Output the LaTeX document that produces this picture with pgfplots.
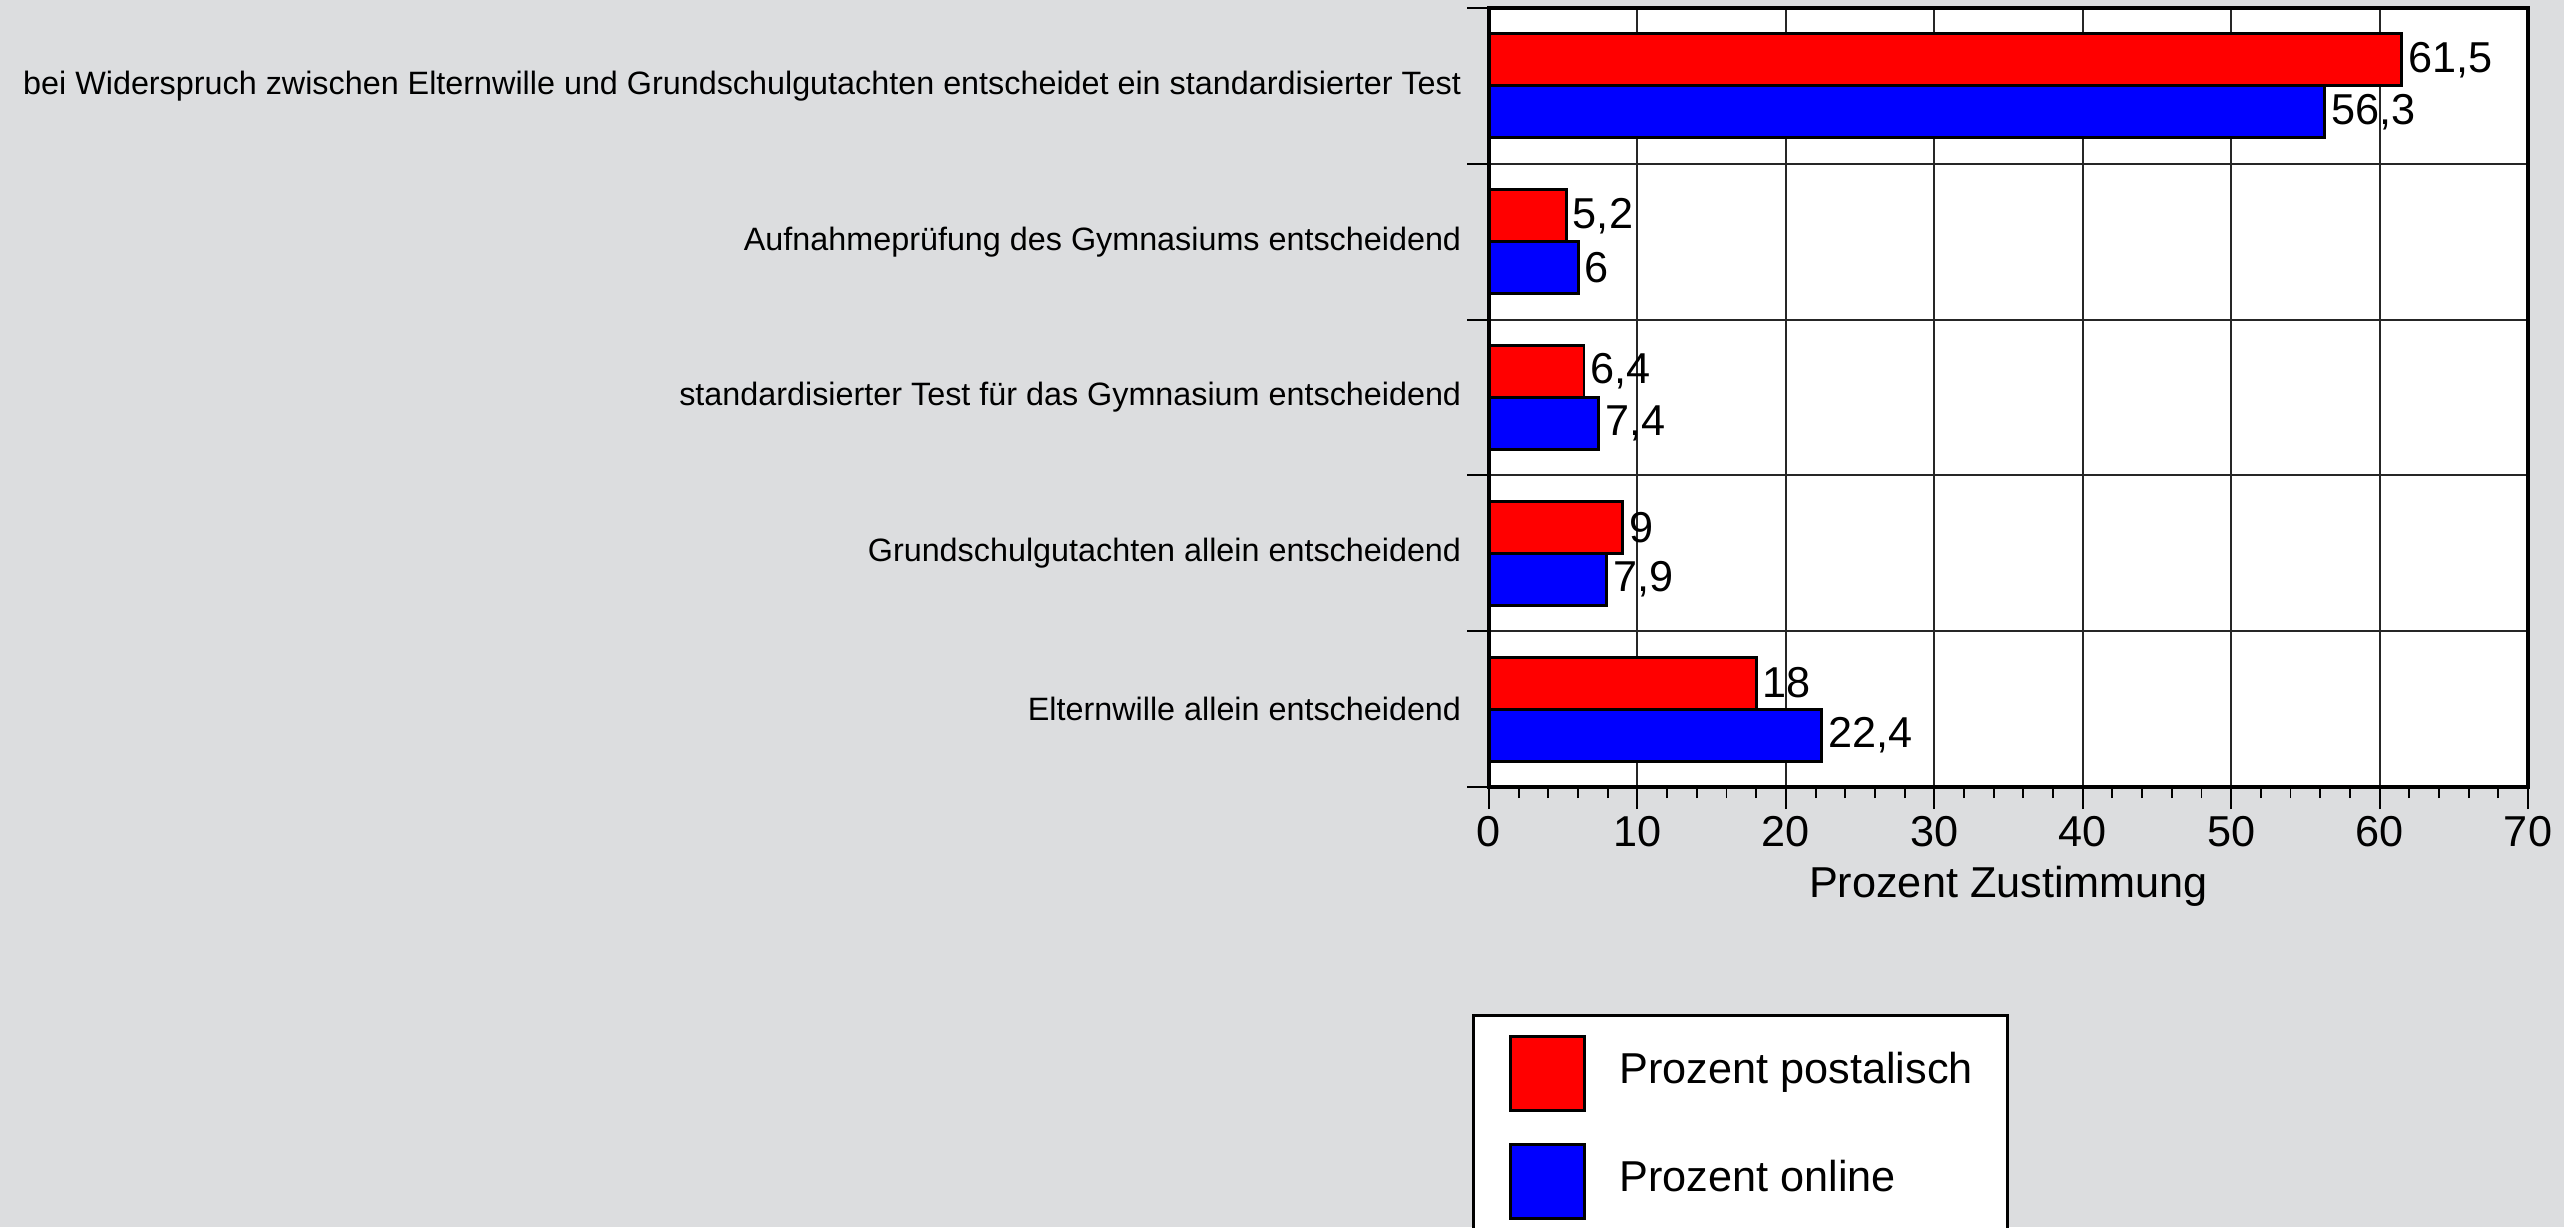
\documentclass[border=0pt]{standalone}
\usepackage{pgfplots}
\pgfplotsset{compat=1.18}
\usepackage{fontspec}
\setmainfont{Liberation Sans}
\definecolor{bggray}{RGB}{220,221,223}
\definecolor{barred}{RGB}{255,0,0}
\definecolor{barblue}{RGB}{0,0,255}
\begin{document}
\begin{tikzpicture}
\fill[bggray] (0,0) rectangle (25.64,12.27);
\useasboundingbox (0,0) rectangle (25.64,12.27);
\clip (0,0) rectangle (25.64,12.27);
\begin{axis}[
  at={(14.89cm,4.40cm)}, anchor=south west,
  scale only axis, width=10.39cm, height=7.79cm,
  axis background/.style={fill=white},
  xbar=0pt, bar width=0.334,
  y dir=reverse,
  xmin=0, xmax=70, ymin=-0.5, ymax=4.5,
  xtick={0,10,...,70}, minor x tick num=4,
  ytick={-0.5,0.5,...,4.5}, yticklabels={},
  extra y ticks={0,1,2,3,4},
  extra y tick labels={bei Widerspruch zwischen Elternwille und Grundschulgutachten entscheidet ein standardisierter Test,
    Aufnahmeprüfung des Gymnasiums entscheidend,
    standardisierter Test für das Gymnasium entscheidend,
    Grundschulgutachten allein entscheidend,
    Elternwille allein entscheidend},
  extra y tick style={grid=none, tick style={draw=none}, yticklabel style={font=\fontsize{9.2}{11}\selectfont, xshift=0.065cm}},
  tick pos=left, tick align=outside,
  major tick length=0.22cm, minor tick length=0.11cm,
  xmajorgrids, ymajorgrids,
  major grid style={black!85, line width=0.55pt},
  tick style={black, line width=0.55pt},
  axis line style={black, line width=1.1pt},
  /pgf/number format/assume math mode=true,
  /pgf/number format/use comma,
  ticklabel style={font=\fontsize{12.3}{14}\selectfont},
  xticklabel style={yshift=0.05cm},
  xlabel={Prozent Zustimmung},
  xlabel style={font=\fontsize{12.3}{14}\selectfont, yshift=0.05cm},
  nodes near coords,
  nodes near coords style={font=\fontsize{12.3}{14}\selectfont, inner xsep=1.5pt, black},
  legend style={at={(-0.0164,-0.2914)}, anchor=north west, draw=black, line width=0.9pt,
    fill=white, font=\fontsize{12.3}{14}\selectfont,
    inner xsep=0.35cm, inner ysep=0.19cm, row sep=0.31cm,
    nodes={inner sep=0pt, anchor=base west},
    cells={anchor=base west},
    /tikz/every odd column/.append style={column sep=0.34cm}},
]
\addplot[fill=barred, draw=black, line width=0.85pt,
  legend image code/.code={\draw[fill=barred, draw=black, line width=0.85pt] (0cm,-0.27cm) rectangle (0.74cm,0.47cm);}]
  coordinates {(61.5,0) (5.2,1) (6.4,2) (9,3) (18,4)};
\addlegendentry{Prozent postalisch}
\addplot[fill=barblue, draw=black, line width=0.85pt,
  legend image code/.code={\draw[fill=barblue, draw=black, line width=0.85pt] (0cm,-0.27cm) rectangle (0.74cm,0.47cm);}]
  coordinates {(56.3,0) (6,1) (7.4,2) (7.9,3) (22.4,4)};
\addlegendentry{Prozent online}
\end{axis}
\end{tikzpicture}
\end{document}
